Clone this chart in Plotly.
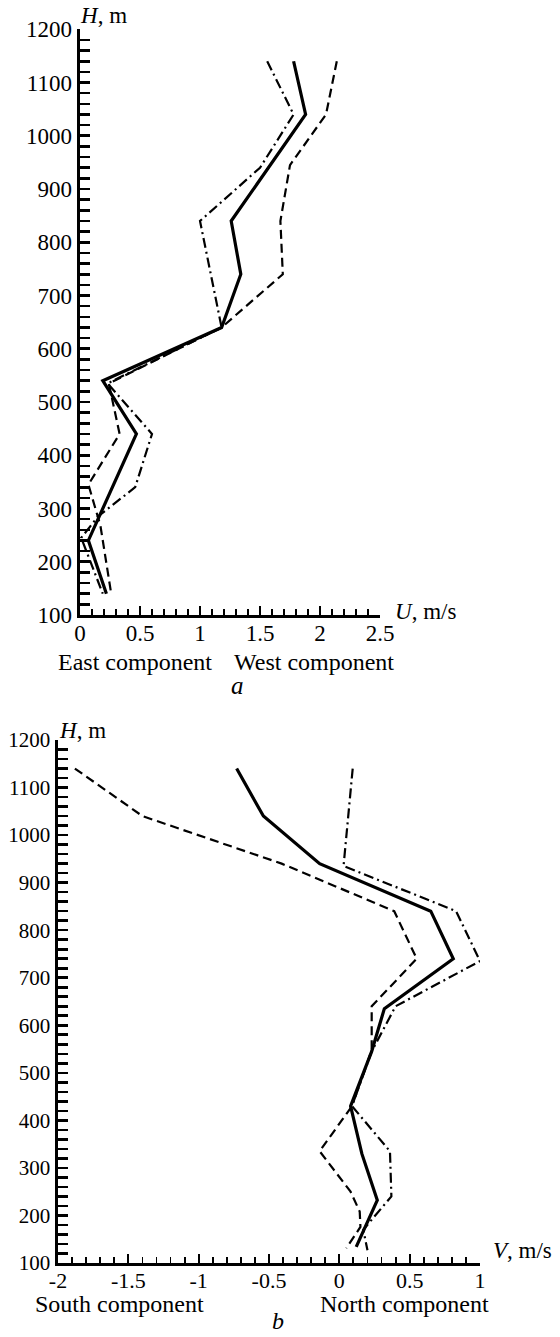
import plotly.graph_objects as go

W, HT = 560, 1337
FONT = "Liberation Serif, Times New Roman, Times, serif"

# ---------------- data ----------------
# Panel a: U (east-west component), heights in m
a_solid_H = [1140, 1040, 840, 740, 640, 540, 440, 240, 140]
a_solid_U = [1.78, 1.88, 1.26, 1.34, 1.18, 0.19, 0.47, 0.07, 0.22]
a_dash_H = [1140, 1040, 945, 840, 740, 640, 535, 440, 345, 268, 140]
a_dash_U = [2.14, 2.05, 1.75, 1.67, 1.69, 1.18, 0.24, 0.33, 0.07, 0.17, 0.26]
a_dashdot_H = [1140, 1040, 940, 840, 640, 535, 440, 340, 285, 245, 140]
a_dashdot_U = [1.56, 1.78, 1.50, 1.00, 1.18, 0.23, 0.60, 0.46, 0.15, 0.01, 0.19]

# Panel b: V (north-south component)
b_solid_H = [1140, 1040, 940, 840, 740, 635, 545, 430, 330, 232, 134]
b_solid_V = [-0.73, -0.54, -0.14, 0.65, 0.81, 0.32, 0.23, 0.08, 0.16, 0.27, 0.12]
b_dash_H = [1140, 1040, 940, 840, 740, 640, 548, 430, 335, 250, 208, 176, 131]
b_dash_V = [-1.88, -1.40, -0.41, 0.39, 0.55, 0.23, 0.23, 0.09, -0.14, 0.08, 0.145, 0.15, 0.05]
b_dashdot_H = [1140, 935, 840, 735, 640, 545, 430, 335, 240, 170, 127]
b_dashdot_V = [0.095, 0.03, 0.83, 1.0, 0.40, 0.23, 0.09, 0.36, 0.37, 0.17, 0.20]

a_xticks = [0, 0.5, 1, 1.5, 2, 2.5]
a_xticktext = ["0", "0.5", "1", "1.5", "2", "2.5"]
b_xticks = [-2, -1.5, -1, -0.5, 0, 0.5, 1]
b_xticktext = ["-2", "-1.5", "-1", "-0.5", "0", "0.5", "1"]
h_ticks = [100, 200, 300, 400, 500, 600, 700, 800, 900, 1000, 1100, 1200]

# ---------------- helpers ----------------
def px_x(x):
    return x / W

def px_y(y):
    return 1 - y / HT

SOLID = dict(color="black", width=3.2)
DASH = dict(color="black", width=2.2, dash="9px,5px")
DASHDOT = dict(color="black", width=2.2, dash="10px,4px,2px,4px")

fig = go.Figure()
fig.add_trace(go.Scatter(x=a_dash_U, y=a_dash_H, mode="lines", line=DASH, xaxis="x", yaxis="y"))
fig.add_trace(go.Scatter(x=a_dashdot_U, y=a_dashdot_H, mode="lines", line=DASHDOT, xaxis="x", yaxis="y"))
fig.add_trace(go.Scatter(x=a_solid_U, y=a_solid_H, mode="lines", line=SOLID, xaxis="x", yaxis="y"))
fig.add_trace(go.Scatter(x=b_dash_V, y=b_dash_H, mode="lines", line=DASH, xaxis="x2", yaxis="y2"))
fig.add_trace(go.Scatter(x=b_dashdot_V, y=b_dashdot_H, mode="lines", line=DASHDOT, xaxis="x2", yaxis="y2"))
fig.add_trace(go.Scatter(x=b_solid_V, y=b_solid_H, mode="lines", line=SOLID, xaxis="x2", yaxis="y2"))


def xaxis(domain, rng, tickvals, ticktext, anchor, size):
    return dict(domain=domain, range=rng, anchor=anchor, automargin=False, showline=True,
                linecolor="black", linewidth=2.5, showgrid=False, zeroline=False,
                ticks="inside", ticklen=9, tickwidth=2, tickcolor="black", tickmode="array",
                tickvals=tickvals, ticktext=ticktext, ticklabelstandoff=-4,
                tickfont=dict(family=FONT, size=size, color="black"),
                minor=dict(dtick=0.1, tick0=0, ticks="inside", ticklen=6, tickwidth=1.8,
                           tickcolor="black", showgrid=False),
                fixedrange=True)


def yaxis(domain, anchor, size):
    return dict(domain=domain, range=[100, 1200], anchor=anchor, automargin=False, showline=True,
                linecolor="black", linewidth=3.5, showgrid=False, zeroline=False,
                ticks="inside", ticklen=10, tickwidth=2.6, tickcolor="black", tickmode="array",
                tickvals=h_ticks, ticklabelstandoff=0,
                tickfont=dict(family=FONT, size=size, color="black"),
                minor=dict(dtick=20, tick0=0, ticks="inside", ticklen=10, tickwidth=2.6,
                           tickcolor="black", showgrid=False),
                fixedrange=True)


fig.update_layout(
    template="none",
    width=W, height=HT,
    margin=dict(l=0, r=0, t=0, b=0, pad=0, autoexpand=False),
    paper_bgcolor="white", plot_bgcolor="white",
    showlegend=False,
    hovermode=False,
    font=dict(family=FONT, color="black"),
    xaxis=xaxis([px_x(80), px_x(380)], [0, 2.5], a_xticks, a_xticktext, "y", 23),
    yaxis=yaxis([px_y(615), px_y(29.3)], "x", 23),
    xaxis2=xaxis([px_x(58), px_x(480)], [-2, 1], b_xticks, b_xticktext, "y2", 22),
    yaxis2=yaxis([px_y(1263), px_y(740)], "x2", 21),
)

def note(text, x, y, xanchor="left", size=24):
    fig.add_annotation(text=text, x=px_x(x), y=px_y(y), xref="paper", yref="paper",
                       xanchor=xanchor, yanchor="middle", showarrow=False,
                       font=dict(family=FONT, size=size, color="black"))

note("<i>H</i>, m", 78, 16, size=23)
note("<i>U</i>, m/s", 393, 611, size=23)
note("East component", 56, 662)
note("West component", 232, 662)
note("<i>a</i>", 237, 685, "center", 25)

note("<i>H</i>, m", 57, 730, size=23)
note("<i>V</i>, m/s", 491, 1250, size=23)
note("South component", 33, 1304)
note("North component", 318, 1304)
note("<i>b</i>", 278, 1321, "center", 24)

fig.write_html(
    "out.html",
    config={"displayModeBar": False, "staticPlot": True},
    post_script="document.body.style.margin='0';document.body.style.padding='0';"
                "document.body.style.overflow='hidden';",
)
